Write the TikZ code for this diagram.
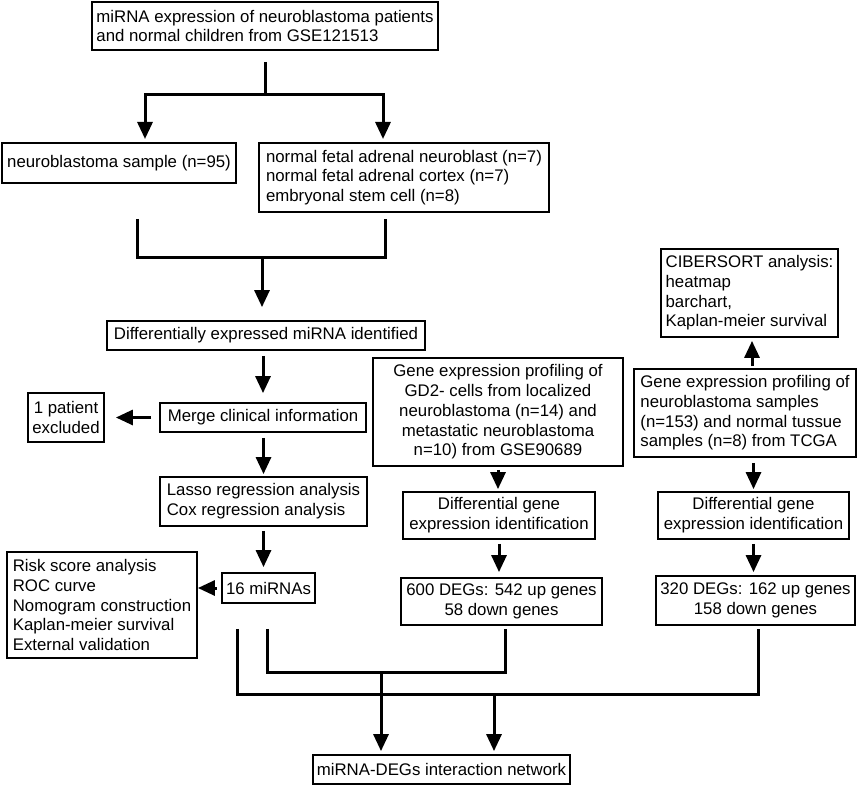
\documentclass[tikz,border=0pt]{standalone}
\usepackage{fontspec}
\setmainfont{Liberation Sans}
\usetikzlibrary{arrows.meta}
\begin{document}
\begin{tikzpicture}[x=1pt,y=-1pt,
  box/.style={draw, line width=1.8pt, inner sep=0pt, font=\fontsize{16.8}{19.7}\selectfont},
  ln/.style={line width=3pt},
  arr/.style={line width=3pt, -{Triangle[width=15pt,length=17pt]}}]
\useasboundingbox (0,0) rectangle (858,786);
% nodes
\node[box, minimum width=346pt, minimum height=48pt, align=left] (top) at (265,26) {miRNA expression of neuroblastoma patients\\and normal children from GSE121513};
\node[box, minimum width=234pt, minimum height=40pt] (nb) at (119,163) {neuroblastoma sample (n=95)};
\node[box, minimum width=290pt, minimum height=69pt, align=left] (normal) at (404,177.5) {normal fetal adrenal neuroblast (n=7)\\normal fetal adrenal cortex (n=7)\\embryonal stem cell (n=8)};
\node[box, minimum width=318pt, minimum height=29pt] (diff) at (266,335.5) {Differentially expressed miRNA identified};
\node[box, minimum width=76pt, minimum height=49pt, align=center] (pat) at (66,417.5) {1 patient\\excluded};
\node[box, minimum width=206pt, minimum height=29pt] (merge) at (263,417.5) {Merge clinical information};
\node[box, minimum width=207pt, minimum height=49pt, align=left] (lasso) at (263.5,501.5) {Lasso regression analysis\\Cox regression analysis};
\node[box, minimum width=190pt, minimum height=106pt, align=left] (risk) at (102,605) {Risk score analysis\\ROC curve\\Nomogram construction\\Kaplan-meier survival\\External validation};
\node[box, minimum width=93pt, minimum height=30pt] (mir) at (268.5,588) {16 miRNAs};
\node[box, minimum width=250pt, minimum height=108pt, align=center] (gd2) at (498,412) {Gene expression profiling of\\GD2- cells from localized\\neuroblastoma (n=14) and\\metastatic neuroblastoma\\n=10) from GSE90689};
\node[box, minimum width=192pt, minimum height=47pt, align=center] (diffM) at (499,515.5) {Differential gene\\expression identification};
\node[box, minimum width=201pt, minimum height=47pt, align=center] (d600) at (501.5,601.5) {600 DEGs: 542 up genes\\58 down genes};
\node[box, minimum width=177pt, minimum height=88pt, align=left] (cib) at (749.5,293) {CIBERSORT analysis:\\heatmap\\barchart,\\Kaplan-meier survival};
\node[box, minimum width=222pt, minimum height=88pt, align=left] (tcga) at (745,413) {Gene expression profiling of\\neuroblastoma samples\\(n=153) and normal tussue\\samples (n=8) from TCGA};
\node[box, minimum width=191pt, minimum height=47pt, align=center] (diffR) at (753.5,515.5) {Differential gene\\expression identification};
\node[box, minimum width=199pt, minimum height=49pt, align=center] (d320) at (755.5,600.5) {320 DEGs: 162 up genes\\158 down genes};
\node[box, minimum width=257pt, minimum height=29pt] (final) at (441.5,769.5) {miRNA-DEGs interaction network};
% helper coordinates
\coordinate (j1) at (265,95);
\coordinate (a1) at (145,139);
\coordinate (a2) at (383,139);
\coordinate (c1) at ([xshift=18pt]nb.south);
\coordinate (c2) at ([xshift=-19pt]normal.south);
\coordinate (j2) at (262,257);
\coordinate (h1) at (0,672);
\coordinate (h2) at (0,694);
\coordinate (xi) at (267,0);
\coordinate (xo) at (237,0);
\coordinate (x1) at (381,0);
\coordinate (x2) at (494,0);
\coordinate (s600) at ([xshift=3.5pt]d600.south);
\coordinate (s320) at ([xshift=2.5pt]d320.south);
\coordinate (up) at ([xshift=2.5pt]cib.south);
% connectors
\draw[ln, shorten <=11pt] (top.south) -- (j1);
\draw[arr] (j1) -| (a1);
\draw[arr] (j1) -| (a2);
\draw[ln, shorten <=35pt, shorten >=6pt] (c1) |- (j2) -| (c2);
\draw[arr, shorten >=13pt] (j2) -- (j2 |- diff.north);
\draw[arr, shorten <=5pt, shorten >=9pt] (merge.north |- diff.south) -- (merge.north);
\draw[arr, shorten <=8pt, shorten >=11pt] (merge.west) -- (merge.west -| pat.east);
\draw[arr, shorten <=5pt, shorten >=2pt] (lasso.north |- merge.south) -- (lasso.north);
\draw[arr, shorten <=4pt, shorten >=5pt] (lasso.south) -- (lasso.south |- mir.north);
\draw[arr, shorten <=4pt] (mir.west) -- (mir.west -| risk.east);
\draw[arr, shorten <=3pt, shorten >=2pt] (gd2.south) -- (gd2.south |- diffM.north);
\draw[arr, shorten <=4pt, shorten >=5pt] (diffM.south) -- (diffM.south |- d600.north);
\draw[arr, shorten <=2pt, shorten >=3pt] (up |- tcga.north) -- (up);
\draw[arr, shorten <=5pt, shorten >=2pt] (diffR.north |- tcga.south) -- (diffR.north);
\draw[arr, shorten <=4pt, shorten >=3pt] (diffR.south) -- (diffR.south |- d320.north);
\draw[ln, shorten <=25pt, shorten >=3pt] (mir.south -| xi) |- (h1 -| s600) -- (s600);
\draw[ln, shorten <=25pt, shorten >=3pt] (mir.south -| xo) |- (h2 -| s320) -- (s320);
\draw[arr, shorten >=3pt] (h1 -| x1) -- (final.north -| x1);
\draw[arr, shorten >=3pt] (h2 -| x2) -- (final.north -| x2);
\end{tikzpicture}
\end{document}
